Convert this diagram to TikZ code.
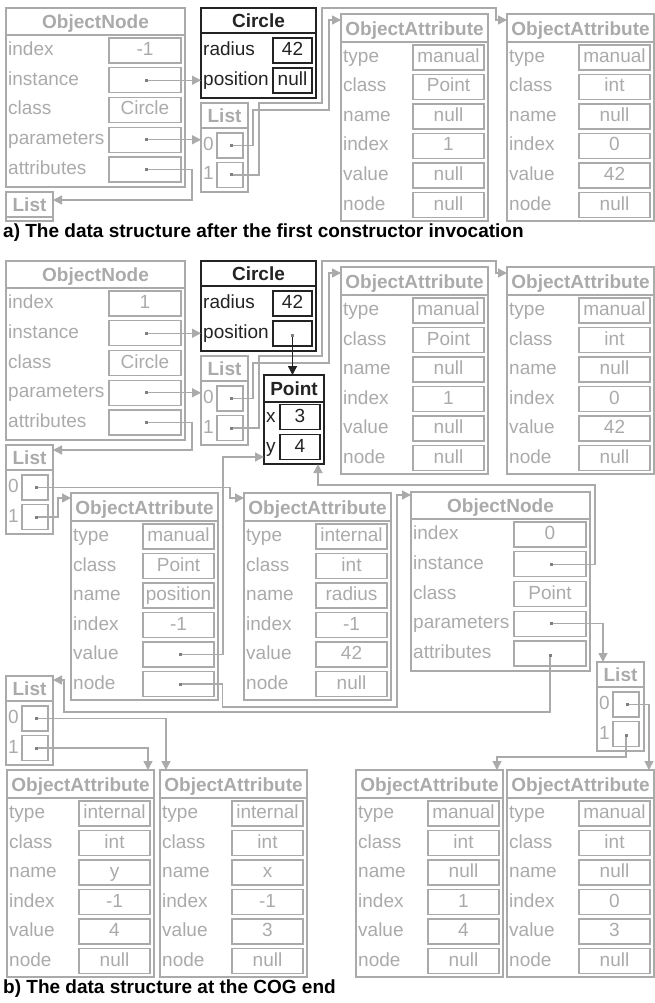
\documentclass[tikz,border=0pt]{standalone}
\usepackage{fontspec}
\setmainfont{Liberation Sans}
\usetikzlibrary{arrows.meta}
\definecolor{fade}{RGB}{170,170,170}
\definecolor{ink}{RGB}{35,35,35}

\newcommand{\objattr}[8]{%
  \node[rec,minimum width=147pt,minimum height=207pt] (#1) at (#2) {};
  \draw[rec line] ([yshift=-28pt]#1.north west) -- ([yshift=-28pt]#1.north east);
  \node[hdr] at ([yshift=-14.5pt]#1.north) {ObjectAttribute};
  \foreach \lbl/\val [count=\row from 0] in {type/#3,class/#4,name/#5,index/#6,value/#7,node/#8}
    {\node[lbl] at ([xshift=2pt,yshift={-43.5pt-29.5pt*\row}]#1.north west) {\lbl};
     \node[cell,minimum width=71pt] (#1-\lbl) at ([xshift=107.5pt,yshift={-43.5pt-29.5pt*\row}]#1.north west) {\val};}
}
\newcommand{\objnode}[4]{%
  \node[rec,minimum width=179pt,minimum height=179pt] (#1) at (#2) {};
  \draw[rec line] ([yshift=-27pt]#1.north west) -- ([yshift=-27pt]#1.north east);
  \node[hdr] at ([yshift=-13.5pt]#1.north) {ObjectNode};
  \foreach \lbl/\val [count=\row from 0] in {index/#3,instance/,class/#4,parameters/,attributes/}
    {\node[lbl] at ([xshift=2pt,yshift={-42.5pt-29.75pt*\row}]#1.north west) {\lbl};
     \node[cell,minimum width=72pt] (#1-\lbl) at ([xshift=139pt,yshift={-42.5pt-29.75pt*\row}]#1.north west) {\val};}
}
\newcommand{\listbox}[2]{%
  \node[rec,minimum width=47pt,minimum height=89pt] (#1) at (#2) {};
  \draw[rec line] ([yshift=-25pt]#1.north west) -- ([yshift=-25pt]#1.north east);
  \node[hdr] at ([yshift=-13pt]#1.north) {List};
  \foreach \row in {0,1}
    {\node[lbl] at ([xshift=2pt,yshift={-42.5pt-29.5pt*\row}]#1.north west) {\row};
     \node[cell,minimum width=26pt] (#1-\row) at ([xshift=29pt,yshift={-42.5pt-29.5pt*\row}]#1.north west) {};}
}
\newcommand{\instcircle}[3]{%
  \node[irec,minimum width=115pt,minimum height=90pt] (#1) at (#2) {};
  \draw[irec line] ([yshift=-25pt]#1.north west) -- ([yshift=-25pt]#1.north east);
  \node[ihdr] at ([yshift=-12.5pt]#1.north) {Circle};
  \node[ilbl] at ([xshift=2pt,yshift=-42.5pt]#1.north west) {radius};
  \node[icell,minimum width=39pt] (#1-radius) at ([xshift=91.5pt,yshift=-42.5pt]#1.north west) {42};
  \node[ilbl] at ([xshift=2pt,yshift=-72.5pt]#1.north west) {position};
  \node[icell,minimum width=39pt] (#1-position) at ([xshift=91.5pt,yshift=-72.5pt]#1.north west) {#3};
}

\begin{document}
\begin{tikzpicture}[
  x=1pt,y=-1pt,
  rec/.style={draw=fade,line width=1.5pt,inner sep=0pt,outer sep=0pt,anchor=north west},
  rec line/.style={draw=fade,line width=1.5pt},
  irec/.style={rec,draw=ink,line width=1.8pt},
  irec line/.style={draw=ink,line width=1.8pt},
  txt/.style={inner sep=0pt,font=\fontsize{19}{22}\selectfont,text height=13.5pt,text depth=3.5pt},
  hdr/.style={txt,font=\fontsize{19}{22}\selectfont\bfseries,text=fade,text depth=0pt},
  lbl/.style={txt,text=fade,anchor=west},
  cell/.style={txt,draw=fade,line width=1.2pt,minimum height=25pt,outer sep=0pt,text=fade},
  ihdr/.style={hdr,text=ink},
  ilbl/.style={lbl,text=ink},
  icell/.style={cell,draw=ink,text=ink,line width=1.5pt},
  ptr/.style={draw=fade,line width=1.4pt,{Square[length=3pt,width=3pt,color=gray]}-{Triangle[length=9pt,width=9pt]}},
  iptr/.style={ptr,draw=ink},
  caption/.style={txt,font=\fontsize{19}{22}\selectfont\bfseries,anchor=west}
]
\useasboundingbox (0,0) rectangle (655,1003);

\objnode{onA}{6,8}{-1}{Circle}
\instcircle{circA}{201,8}{null}
\listbox{listA}{201,103}
\node[rec,minimum width=47pt,minimum height=29pt] (listE) at (6,192) {};
\draw[rec line] ([yshift=-25pt]listE.north west) -- ([yshift=-25pt]listE.north east);
\node[hdr] at ([yshift=-13pt]listE.north) {List};
\objattr{oa1A}{341,14}{manual}{Point}{null}{1}{null}{null}
\objattr{oa2A}{507,14}{manual}{int}{null}{0}{42}{null}
\node[caption] (capA) at (3,232) {a) The data structure after the first constructor invocation};

\draw[ptr] (onA-instance.center) -- (onA-instance -| circA.west);
\draw[ptr] (onA-parameters.center) -- (onA-parameters -| listA.west);
\draw[ptr] (onA-attributes.center) -- ++(47,0) |- ([yshift=-8pt]listE.north east);
\draw[ptr] (listA-0.center) -- ++(23,0) -- ++(0,-35.5) -- ++(76,0) |- ([yshift=-6pt]oa1A.north west);
\draw[ptr] (listA-1.center) -- ++(29,0) -- ++(0,-72) -- ++(63,0) -- ++(0,-95) -- ++(174,0) |- ([yshift=-6pt]oa2A.north west);

\objnode{onB}{6,261}{1}{Circle}
\instcircle{circB}{201,261}{}
\listbox{listB}{201,356}
\objattr{oa1B}{341,267}{manual}{Point}{null}{1}{null}{null}
\objattr{oa2B}{507,267}{manual}{int}{null}{0}{42}{null}
\node[irec,minimum width=60pt,minimum height=89pt] (point) at (264,375) {};
\draw[irec line] ([yshift=-27pt]point.north west) -- ([yshift=-27pt]point.north east);
\node[ihdr] at ([yshift=-13.5pt]point.north) {Point};
\node[ilbl] at ([xshift=2pt,yshift=-42pt]point.north west) {x};
\node[icell,minimum width=40pt] (point-x) at ([xshift=36pt,yshift=-42pt]point.north west) {3};
\node[ilbl] at ([xshift=2pt,yshift=-72pt]point.north west) {y};
\node[icell,minimum width=40pt] (point-y) at ([xshift=36pt,yshift=-72pt]point.north west) {4};
\listbox{listC}{6,445}
\objattr{oaL}{71,493}{manual}{Point}{position}{-1}{}{}
\objattr{oaM}{244,493}{internal}{int}{radius}{-1}{42}{null}
\objnode{onP}{411,492}{0}{Point}
\listbox{listD}{6,676}
\listbox{listR}{597,662}
\objattr{oaBy}{7,770}{internal}{int}{y}{-1}{4}{null}
\objattr{oaBx}{160,770}{internal}{int}{x}{-1}{3}{null}
\objattr{oaB3}{356,770}{manual}{int}{null}{1}{4}{null}
\objattr{oaB4}{507,770}{manual}{int}{null}{0}{3}{null}
\node[caption] (capB) at (3,988) {b) The data structure at the COG end};

\draw[ptr] (onB-instance.center) -- (onB-instance -| circB.west);
\draw[ptr] (onB-parameters.center) -- (onB-parameters -| listB.west);
\draw[ptr] (onB-attributes.center) -- ++(47,0) |- ([yshift=-5pt]listC.north east);
\draw[ptr] (listB-0.center) -- ++(23,0) -- ++(0,-35.5) -- ++(76,0) |- ([yshift=-6pt]oa1B.north west);
\draw[ptr] (listB-1.center) -- ++(29,0) -- ++(0,-72) -- ++(63,0) -- ++(0,-95) -- ++(174,0) |- ([yshift=-6pt]oa2B.north west);
\draw[iptr] (circB-position.center) -- (circB-position.center |- point.north);
\draw[ptr] (listC-0.center) -- ++(195,0) |- ([yshift=-5pt]oaM.north west);
\draw[ptr] (listC-1.center) -- ++(23,0) |- ([yshift=-5pt]oaL.north west);
\draw[ptr] (oaL-value.center) -- ++(44.5,0) |- ([yshift=7pt]point.south west);
\draw[ptr] (oaL-node.center) -- ++(44,0) -- ++(0,23) -- ++(174.5,0) |- ([yshift=-3pt]onP.north west);
\draw[ptr] (onP-instance.center) -- ++(45,0) -- ++(0,-79.25) -| ([xshift=-6pt]point.south east);
\draw[ptr] (onP-parameters.center) -| ([xshift=6pt]listR.north west);
\draw[ptr] (onP-attributes.center) -- ++(0,58.5) -- ++(-486,0) |- ([yshift=-4pt]listD.north east);
\draw[ptr] (listD-0.center) -| ([xshift=6pt]oaBx.north west);
\draw[ptr] (listD-1.center) -| ([xshift=-6pt]oaBy.north east);
\draw[ptr] (listR-1.center) -- ++(0,23) -| ([xshift=-6pt]oaB3.north east);
\draw[ptr] (listR-0.center) -| ([xshift=-5pt]oaB4.north east);
\end{tikzpicture}
\end{document}
